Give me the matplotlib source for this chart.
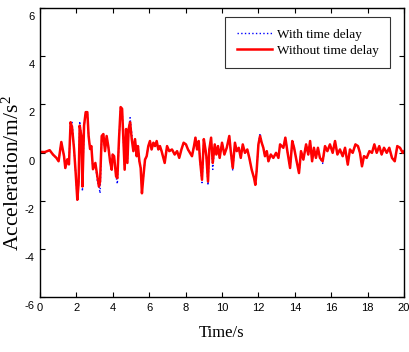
import numpy as np
import matplotlib.pyplot as plt
from matplotlib.transforms import ScaledTranslation

# Time axis (s) and acceleration (m/s^2)
time_s = [0.0, 0.26, 0.53, 0.71, 0.9, 1.02, 1.17, 1.32, 1.39, 1.5, 1.59, 1.68, 1.76,
          1.87, 1.96, 2.05, 2.12, 2.18, 2.27, 2.33, 2.42, 2.51, 2.6, 2.67, 2.75,
          2.82, 2.91, 3.04, 3.15, 3.24, 3.3, 3.39, 3.48, 3.57, 3.66, 3.75, 3.85,
          3.94, 3.99, 4.07, 4.18, 4.25, 4.34, 4.43, 4.51, 4.58, 4.65, 4.73, 4.8,
          4.87, 4.95, 5.04, 5.13, 5.22, 5.31, 5.38, 5.46, 5.53, 5.6, 5.68, 5.77,
          5.86, 5.95, 6.04, 6.13, 6.23, 6.32, 6.41, 6.5, 6.59, 6.68, 6.85, 6.98,
          7.1, 7.25, 7.4, 7.53, 7.65, 7.77, 7.89, 8.02, 8.13, 8.24, 8.35, 8.46,
          8.54, 8.63, 8.72, 8.79, 8.9, 9.0, 9.09, 9.14, 9.23, 9.3, 9.4, 9.49,
          9.6, 9.69, 9.78, 9.87, 10.0, 10.13, 10.26, 10.4, 10.48, 10.59, 10.71,
          10.81, 10.92, 11.03, 11.14, 11.26, 11.39, 11.5, 11.63, 11.76, 11.83,
          11.9, 12.0, 12.09, 12.18, 12.27, 12.36, 12.46, 12.55, 12.68, 12.82,
          12.97, 13.1, 13.19, 13.37, 13.48, 13.59, 13.74, 13.86, 13.96, 14.1,
          14.23, 14.34, 14.47, 14.62, 14.74, 14.84, 14.95, 15.05, 15.16, 15.27,
          15.38, 15.53, 15.66, 15.79, 15.93, 16.08, 16.21, 16.34, 16.48, 16.63,
          16.76, 16.91, 17.03, 17.18, 17.33, 17.47, 17.58, 17.69, 17.8, 17.95,
          18.1, 18.24, 18.37, 18.5, 18.64, 18.77, 18.9, 19.05, 19.19, 19.34,
          19.49, 19.63, 19.78, 19.93, 20.0]

acc_without = [0.03, 0.02, 0.1, -0.08, -0.22, -0.36, 0.44, -0.15, -0.64, -0.28, -0.49,
               1.26, 1.05, 0.15, -0.85, -1.96, -1.27, 1.12, 0.69, -1.41, 1.12, 1.68,
               1.68, 0.69, 0.15, 0.27, -0.69, -0.43, -0.99, -1.41, -1.2, 0.69, 0.77,
               0.06, 0.69, 0.27, -0.36, -0.71, -0.08, -0.15, -0.99, -1.06, 0.56,
               1.89, 1.82, 0.56, -0.71, 0.98, -0.43, 0.98, 1.26, 0.56, 0.06, 0.56,
               -0.15, 0.27, -0.36, -0.64, -1.69, -0.99, -0.29, -0.15, 0.27, 0.48,
               0.13, 0.41, 0.27, 0.48, 0.13, 0.27, 0.06, -0.43, 0.27, 0.06, 0.13,
               -0.08, 0.06, -0.22, 0.13, 0.41, 0.34, 0.13, -0.01, -0.15, 0.27, 0.62,
               0.13, 0.48, -0.29, -1.13, 0.56, 0.13, -0.15, -1.2, 0.13, 0.62, -0.43,
               0.34, -0.08, 0.27, -0.22, 0.41, -0.08, 0.2, 0.69, 0.06, -0.64, 0.41,
               0.06, 0.2, -0.22, 0.34, -0.01, 0.13, -0.22, -0.71, -1.06, -1.34,
               -0.78, 0.34, 0.69, 0.41, 0.2, -0.15, 0.06, -0.36, -0.08, -0.22, -0.01,
               -0.22, 0.34, 0.2, 0.62, 0.06, -0.64, 0.48, 0.2, -0.36, -0.85, 0.06,
               -0.29, 0.34, -0.08, 0.48, -0.36, 0.2, -0.22, 0.2, -0.22, -0.36, 0.27,
               0.06, 0.34, -0.01, 0.48, -0.08, 0.13, -0.15, 0.2, -0.5, 0.13, -0.01,
               0.34, 0.27, -0.01, -0.57, -0.15, -0.22, 0.06, -0.01, 0.34, -0.01, 0.27,
               -0.08, 0.2, -0.01, 0.2, -0.22, -0.36, 0.27, 0.2, -0.01, 0.05]

# Points where the delayed response visibly departs from the other one
with_delay_changes = {1.76: 1.3, 2.18: 1.3, 2.33: -1.6, 3.15: -1.2, 3.3: -1.69,
                      4.25: -1.3, 4.95: 1.45, 5.04: 0.8, 5.6: -1.5, 8.9: -1.25,
                      9.23: -1.35, 9.49: -0.7, 10.59: -0.75, 11.83: -1.2,
                      12.09: 0.8, 15.53: -0.45}

acc_with = [with_delay_changes.get(t, a) for t, a in zip(time_s, acc_without)]

plt.rcParams['font.family'] = ['Liberation Serif', 'DejaVu Serif']
plt.rcParams['axes.unicode_minus'] = False
plt.rcParams['mathtext.fontset'] = 'custom'
plt.rcParams['mathtext.rm'] = 'Liberation Serif'
plt.rcParams['mathtext.it'] = 'Liberation Serif:italic'

fig = plt.figure(figsize=(4.1, 3.52), dpi=100)
ax = fig.add_axes([0.0976, 0.156, 0.8878, 0.821])

ax.plot(time_s, acc_with, color='blue', linestyle=':', linewidth=1.0,
        label='With time delay')
ax.plot(time_s, acc_without, color='red', linestyle='-', linewidth=1.8,
        label='Without time delay')

ax.set_xlim(0, 20)
ax.set_ylim(-6, 6)
ax.set_xticks(np.arange(0, 21, 2))
ax.set_yticks(np.arange(-6, 7, 2))
ax.tick_params(direction='in', length=3.5, width=0.8, top=True, right=True,
               labelsize=8, pad=4)
for lab in ax.get_xticklabels() + ax.get_yticklabels():
    lab.set_family(['Liberation Sans', 'DejaVu Sans'])
# y tick labels sit a little below their ticks in the original
shift = ScaledTranslation(0, -8 / 100, fig.dpi_scale_trans)
for lab in ax.get_yticklabels():
    lab.set_transform(lab.get_transform() + shift)

for sp in ax.spines.values():
    sp.set_linewidth(1.0)

ax.set_xlabel('Time/s', fontsize=12, labelpad=9)
ax.set_ylabel('Acceleration/m/s$^\\mathrm{2}$', fontsize=15.5)
ax.yaxis.set_label_coords(-0.045, 0.43)

leg = ax.legend(loc='upper right', bbox_to_anchor=(0.9615, 0.969), fontsize=9.5,
                frameon=True, fancybox=False, edgecolor='black',
                handlelength=2.7, borderpad=0.85, labelspacing=0.3,
                handletextpad=0.35, borderaxespad=0)
leg.get_frame().set_linewidth(0.8)

fig.savefig('out.png', dpi=100)
